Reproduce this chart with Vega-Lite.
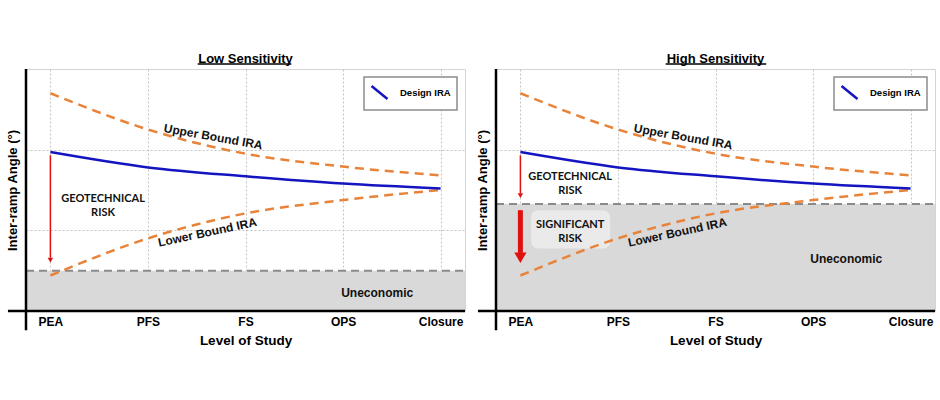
{
  "$schema": "https://vega.github.io/schema/vega-lite/v6.json",
  "padding": {"top": 52, "left": 5, "right": 5, "bottom": 5},
  "background": "#ffffff",
  "spacing": 8,
  "datasets": {
    "curves": [
      {"x": 0, "y": 2.70, "series": "Upper"},
      {"x": 1, "y": 2.25, "series": "Upper"},
      {"x": 2, "y": 1.95, "series": "Upper"},
      {"x": 3, "y": 1.79, "series": "Upper"},
      {"x": 4, "y": 1.68, "series": "Upper"},
      {"x": 0, "y": 0.44, "series": "Lower"},
      {"x": 1, "y": 0.90, "series": "Lower"},
      {"x": 2, "y": 1.21, "series": "Lower"},
      {"x": 3, "y": 1.375, "series": "Lower"},
      {"x": 4, "y": 1.50, "series": "Lower"},
      {"x": 0, "y": 1.97, "series": "Design"},
      {"x": 1, "y": 1.78, "series": "Design"},
      {"x": 2, "y": 1.67, "series": "Design"},
      {"x": 3, "y": 1.58, "series": "Design"},
      {"x": 4, "y": 1.52, "series": "Design"}
    ],
    "axislines": [
      {"x": -0.435, "x2": 4.25, "y": 0, "y2": 0},
      {"x": -0.25, "x2": -0.25, "y": -0.24, "y2": 3}
    ]
  },
  "resolve": {"scale": {"color": "independent"}, "legend": {"color": "independent"}},
  "hconcat": [
    {
      "width": 439,
      "height": 242,
      "title": {"text": "Low Sensitivity"},
      "layer": [
        {
          "data": {"values": [{"x": -0.25, "x2": 4.25, "y": 0, "y2": 0.5}]},
          "mark": {"type": "rect", "color": "#d9d9d9"},
          "encoding": {
            "x": {"field": "x", "type": "quantitative", "scale": {"domain": [-0.25, 4.25], "nice": false, "zero": false},
              "axis": {"values": [0, 1, 2, 3, 4], "labelExpr": "['PEA','PFS','FS','OPS','Closure'][datum.value]", "labelFontSize": 12, "labelPadding": 5, "labelOverlap": false, "labelFlush": false, "title": "Level of Study", "titleFontSize": 13.5, "titlePadding": 6}},
            "x2": {"field": "x2"},
            "y": {"field": "y", "type": "quantitative", "scale": {"domain": [0, 3], "nice": false, "zero": false},
              "axis": {"values": [1, 2], "labels": false, "title": "Inter-ramp Angle (°)", "titleFontSize": 13, "titlePadding": 7}},
            "y2": {"field": "y2"}
          }
        },
        {
          "data": {"values": [{"x": -0.25, "x2": 4.25, "y": 0.5}]},
          "mark": {"type": "rule", "color": "#8a8a8a", "strokeWidth": 2, "strokeDash": [8, 5]},
          "encoding": {"x": {"field": "x", "type": "quantitative"}, "x2": {"field": "x2"}, "y": {"field": "y", "type": "quantitative"}}
        },
        {
          "data": {"name": "curves"},
          "transform": [{"filter": "datum.series != 'Design'"}],
          "mark": {"type": "line", "interpolate": "monotone", "color": "#e8833a", "strokeWidth": 2.5, "strokeDash": [9, 6]},
          "encoding": {"x": {"field": "x", "type": "quantitative"}, "y": {"field": "y", "type": "quantitative"}, "detail": {"field": "series"}}
        },
        {
          "data": {"name": "curves"},
          "transform": [{"filter": "datum.series == 'Design'"}],
          "mark": {"type": "line", "interpolate": "monotone", "strokeWidth": 2.5},
          "encoding": {
            "x": {"field": "x", "type": "quantitative"},
            "y": {"field": "y", "type": "quantitative"},
            "color": {"datum": "Design IRA", "scale": {"range": ["#1414c0"]},
              "legend": {"title": null, "orient": "top-right", "offset": 8, "padding": 6, "fillColor": "#ffffff", "strokeColor": "#8c8c8c", "cornerRadius": 0, "symbolType": "M-1,-0.8L1,0.8", "symbolSize": 256, "symbolStrokeWidth": 2.5, "labelFont": "Liberation Sans", "labelFontSize": 9.5, "labelFontWeight": "bold", "labelColor": "#000000", "labelOffset": 11,
                "encode": {"legend": {"update": {"strokeWidth": {"value": 1.5}}}}}}
          }
        },
        {
          "data": {"name": "axislines"},
          "mark": {"type": "rule", "color": "#000000", "strokeWidth": 2.5},
          "encoding": {"x": {"field": "x", "type": "quantitative"}, "x2": {"field": "x2"}, "y": {"field": "y", "type": "quantitative"}, "y2": {"field": "y2"}}
        },
        {
          "data": {"values": [{"x": 0, "y": 1.93, "y2": 0.66}]},
          "mark": {"type": "rule", "color": "#e01010", "strokeWidth": 1.5},
          "encoding": {"x": {"field": "x", "type": "quantitative"}, "y": {"field": "y", "type": "quantitative"}, "y2": {"field": "y2"}}
        },
        {
          "data": {"values": [{"x": 0, "y": 0.63}]},
          "mark": {"type": "point", "shape": "triangle-down", "filled": true, "color": "#e01010", "size": 30, "opacity": 1},
          "encoding": {"x": {"field": "x", "type": "quantitative"}, "y": {"field": "y", "type": "quantitative"}}
        },
        {
          "data": {"values": [{"x": 0.54, "y": 1.39, "t": ["GEOTECHNICAL", "RISK"]}]},
          "mark": {"type": "text", "font": "Lato", "fontSize": 11, "fontWeight": "bold", "color": "#111111", "baseline": "middle", "lineHeight": 14},
          "encoding": {"x": {"field": "x", "type": "quantitative"}, "y": {"field": "y", "type": "quantitative"}, "text": {"field": "t"}}
        },
        {
          "data": {"values": [{"x": 1.67, "y": 2.16, "t": "Upper Bound IRA"}]},
          "mark": {"type": "text", "fontSize": 12, "fontWeight": "bold", "color": "#111111", "baseline": "middle", "angle": 10},
          "encoding": {"x": {"field": "x", "type": "quantitative"}, "y": {"field": "y", "type": "quantitative"}, "text": {"field": "t"}}
        },
        {
          "data": {"values": [{"x": 1.61, "y": 0.975, "t": "Lower Bound IRA"}]},
          "mark": {"type": "text", "fontSize": 12, "fontWeight": "bold", "color": "#111111", "baseline": "middle", "angle": 348},
          "encoding": {"x": {"field": "x", "type": "quantitative"}, "y": {"field": "y", "type": "quantitative"}, "text": {"field": "t"}}
        },
        {
          "data": {"values": [{"x": 3.35, "y": 0.22, "t": "Uneconomic"}]},
          "mark": {"type": "text", "fontSize": 12, "fontWeight": "bold", "color": "#111111", "baseline": "middle"},
          "encoding": {"x": {"field": "x", "type": "quantitative"}, "y": {"field": "y", "type": "quantitative"}, "text": {"field": "t"}}
        },
        {
          "data": {"values": [{"x": 1.51, "x2": 2.47, "y": 3.0625}]},
          "mark": {"type": "rule", "color": "#000000", "strokeWidth": 1.5},
          "encoding": {"x": {"field": "x", "type": "quantitative"}, "x2": {"field": "x2"}, "y": {"field": "y", "type": "quantitative"}}
        }
      ]
    },
    {
      "width": 439,
      "height": 242,
      "title": {"text": "High Sensitivity"},
      "layer": [
        {
          "data": {"values": [{"x": -0.25, "x2": 4.25, "y": 0, "y2": 1.325}]},
          "mark": {"type": "rect", "color": "#d9d9d9"},
          "encoding": {
            "x": {"field": "x", "type": "quantitative", "scale": {"domain": [-0.25, 4.25], "nice": false, "zero": false},
              "axis": {"values": [0, 1, 2, 3, 4], "labelExpr": "['PEA','PFS','FS','OPS','Closure'][datum.value]", "labelFontSize": 12, "labelPadding": 5, "labelOverlap": false, "labelFlush": false, "title": "Level of Study", "titleFontSize": 13.5, "titlePadding": 6}},
            "x2": {"field": "x2"},
            "y": {"field": "y", "type": "quantitative", "scale": {"domain": [0, 3], "nice": false, "zero": false},
              "axis": {"values": [1, 2], "labels": false, "title": "Inter-ramp Angle (°)", "titleFontSize": 13, "titlePadding": 7}},
            "y2": {"field": "y2"}
          }
        },
        {
          "data": {"values": [{"x": -0.25, "x2": 4.25, "y": 1.325}]},
          "mark": {"type": "rule", "color": "#8a8a8a", "strokeWidth": 2, "strokeDash": [8, 5]},
          "encoding": {"x": {"field": "x", "type": "quantitative"}, "x2": {"field": "x2"}, "y": {"field": "y", "type": "quantitative"}}
        },
        {
          "data": {"values": [{"x": 0.11, "x2": 0.92, "y": 0.775, "y2": 1.25}]},
          "mark": {"type": "rect", "color": "#ffffff", "opacity": 0.45, "cornerRadius": 7},
          "encoding": {"x": {"field": "x", "type": "quantitative"}, "x2": {"field": "x2"}, "y": {"field": "y", "type": "quantitative"}, "y2": {"field": "y2"}}
        },
        {
          "data": {"name": "curves"},
          "transform": [{"filter": "datum.series != 'Design'"}],
          "mark": {"type": "line", "interpolate": "monotone", "color": "#e8833a", "strokeWidth": 2.5, "strokeDash": [9, 6]},
          "encoding": {"x": {"field": "x", "type": "quantitative"}, "y": {"field": "y", "type": "quantitative"}, "detail": {"field": "series"}}
        },
        {
          "data": {"name": "curves"},
          "transform": [{"filter": "datum.series == 'Design'"}],
          "mark": {"type": "line", "interpolate": "monotone", "strokeWidth": 2.5},
          "encoding": {
            "x": {"field": "x", "type": "quantitative"},
            "y": {"field": "y", "type": "quantitative"},
            "color": {"datum": "Design IRA", "scale": {"range": ["#1414c0"]},
              "legend": {"title": null, "orient": "top-right", "offset": 8, "padding": 6, "fillColor": "#ffffff", "strokeColor": "#8c8c8c", "cornerRadius": 0, "symbolType": "M-1,-0.8L1,0.8", "symbolSize": 256, "symbolStrokeWidth": 2.5, "labelFont": "Liberation Sans", "labelFontSize": 9.5, "labelFontWeight": "bold", "labelColor": "#000000", "labelOffset": 11,
                "encode": {"legend": {"update": {"strokeWidth": {"value": 1.5}}}}}}
          }
        },
        {
          "data": {"name": "axislines"},
          "mark": {"type": "rule", "color": "#000000", "strokeWidth": 2.5},
          "encoding": {"x": {"field": "x", "type": "quantitative"}, "x2": {"field": "x2"}, "y": {"field": "y", "type": "quantitative"}, "y2": {"field": "y2"}}
        },
        {
          "data": {"values": [{"x": 0, "y": 1.93, "y2": 1.46}]},
          "mark": {"type": "rule", "color": "#e01010", "strokeWidth": 1.5},
          "encoding": {"x": {"field": "x", "type": "quantitative"}, "y": {"field": "y", "type": "quantitative"}, "y2": {"field": "y2"}}
        },
        {
          "data": {"values": [{"x": 0, "y": 1.43}]},
          "mark": {"type": "point", "shape": "triangle-down", "filled": true, "color": "#e01010", "size": 30, "opacity": 1},
          "encoding": {"x": {"field": "x", "type": "quantitative"}, "y": {"field": "y", "type": "quantitative"}}
        },
        {
          "data": {"values": [{"x": 0, "y": 1.25, "y2": 0.72}]},
          "mark": {"type": "rule", "color": "#e01010", "strokeWidth": 5},
          "encoding": {"x": {"field": "x", "type": "quantitative"}, "y": {"field": "y", "type": "quantitative"}, "y2": {"field": "y2"}}
        },
        {
          "data": {"values": [{"x": 0, "y": 0.66}]},
          "mark": {"type": "point", "shape": "triangle-down", "filled": true, "color": "#e01010", "size": 150, "opacity": 1},
          "encoding": {"x": {"field": "x", "type": "quantitative"}, "y": {"field": "y", "type": "quantitative"}}
        },
        {
          "data": {"values": [{"x": 0.51, "y": 1.66, "t": ["GEOTECHNICAL", "RISK"]}, {"x": 0.51, "y": 1.07, "t": ["SIGNIFICANT", "RISK"]}]},
          "mark": {"type": "text", "font": "Lato", "fontSize": 11, "fontWeight": "bold", "color": "#111111", "baseline": "middle", "lineHeight": 14},
          "encoding": {"x": {"field": "x", "type": "quantitative"}, "y": {"field": "y", "type": "quantitative"}, "text": {"field": "t"}}
        },
        {
          "data": {"values": [{"x": 1.67, "y": 2.16, "t": "Upper Bound IRA"}]},
          "mark": {"type": "text", "fontSize": 12, "fontWeight": "bold", "color": "#111111", "baseline": "middle", "angle": 10},
          "encoding": {"x": {"field": "x", "type": "quantitative"}, "y": {"field": "y", "type": "quantitative"}, "text": {"field": "t"}}
        },
        {
          "data": {"values": [{"x": 1.61, "y": 0.975, "t": "Lower Bound IRA"}]},
          "mark": {"type": "text", "fontSize": 12, "fontWeight": "bold", "color": "#111111", "baseline": "middle", "angle": 348},
          "encoding": {"x": {"field": "x", "type": "quantitative"}, "y": {"field": "y", "type": "quantitative"}, "text": {"field": "t"}}
        },
        {
          "data": {"values": [{"x": 3.34, "y": 0.64, "t": "Uneconomic"}]},
          "mark": {"type": "text", "fontSize": 12, "fontWeight": "bold", "color": "#111111", "baseline": "middle"},
          "encoding": {"x": {"field": "x", "type": "quantitative"}, "y": {"field": "y", "type": "quantitative"}, "text": {"field": "t"}}
        },
        {
          "data": {"values": [{"x": 1.49, "x2": 2.52, "y": 3.0625}]},
          "mark": {"type": "rule", "color": "#000000", "strokeWidth": 1.5},
          "encoding": {"x": {"field": "x", "type": "quantitative"}, "x2": {"field": "x2"}, "y": {"field": "y", "type": "quantitative"}}
        }
      ]
    }
  ],
  "config": {
    "font": "Liberation Sans",
    "view": {"stroke": "#d4d4d4", "strokeWidth": 1},
    "axis": {"domain": false, "ticks": false, "grid": true, "gridDash": [2, 2], "gridColor": "#c4c4c4", "gridWidth": 1, "labelFont": "Liberation Sans", "labelFontWeight": "bold", "labelColor": "#000000", "titleFont": "Liberation Sans", "titleFontWeight": "bold", "titleColor": "#000000"},
    "title": {"font": "Liberation Sans", "fontSize": 13, "fontWeight": "bold", "color": "#000000", "offset": -3, "anchor": "middle", "frame": "group", "baseline": "alphabetic"}
  }
}
